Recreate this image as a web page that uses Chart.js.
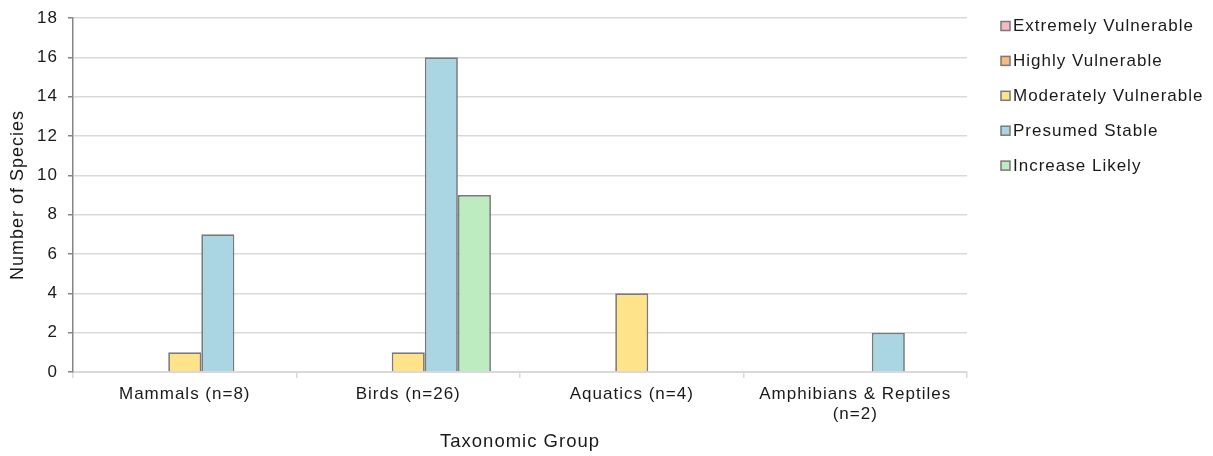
<!DOCTYPE html>
<html>
<head>
<meta charset="utf-8">
<script src="https://cdn.jsdelivr.net/npm/chart.js@4/dist/chart.umd.min.js"></script>
<style>
  html, body { margin: 0; padding: 0; background: #fff; }
  #wrap { width: 1213px; height: 456px; position: relative; }
</style>
</head>
<body>
<div id="wrap"><canvas id="c" width="1213" height="456"></canvas></div>
<script>
// Taxonomic groups along the x axis (multi-line labels are arrays)
const categories = [
  'Mammals (n=8)',
  'Birds (n=26)',
  'Aquatics (n=4)',
  ['Amphibians & Reptiles', '(n=2)']
];

// Vulnerability classes (one series each)
const seriesNames = [
  'Extremely Vulnerable',
  'Highly Vulnerable',
  'Moderately Vulnerable',
  'Presumed Stable',
  'Increase Likely'
];

// Number of species per class, in category order
const extremelyVulnerable  = [0, 0, 0, 0];
const highlyVulnerable     = [0, 0, 0, 0];
const moderatelyVulnerable = [1, 1, 4, 0];
const presumedStable       = [7, 16, 0, 2];
const increaseLikely       = [0, 9, 0, 0];

const yTicks = [0, 2, 4, 6, 8, 10, 12, 14, 16, 18];

const fills = ['#f8b9c3', '#f9b97f', '#ffe38b', '#aad6e3', '#bdecc0'];
const edge = '#7a7a7a';
const textColor = '#1a1a1a';
const font = 'Arial, "Liberation Sans", sans-serif';

const seriesValues = [extremelyVulnerable, highlyVulnerable, moderatelyVulnerable, presumedStable, increaseLikely];

// Slightly open letter spacing for all canvas text
const spacing = {
  id: 'spacing',
  beforeUpdate(chart) { chart.ctx.letterSpacing = '1px'; },
  beforeDraw(chart) { chart.ctx.letterSpacing = '1px'; }
};

// Legend stacked on the right, drawn from the datasets
const sideLegend = {
  id: 'sideLegend',
  afterDraw(chart) {
    const ctx = chart.ctx;
    ctx.save();
    ctx.letterSpacing = '1px';
    ctx.font = '17px ' + font;
    ctx.textBaseline = 'middle';
    ctx.textAlign = 'left';
    chart.data.datasets.forEach((ds, i) => {
      const y = 26.5 + i * 34.9;
      ctx.fillStyle = ds.backgroundColor;
      ctx.fillRect(1001, y - 5, 9, 9);
      ctx.strokeStyle = edge;
      ctx.lineWidth = 1.5;
      ctx.strokeRect(1001, y - 5, 9, 9);
      ctx.fillStyle = textColor;
      ctx.fillText(ds.label, 1013, y);
    });
    ctx.restore();
  }
};

new Chart(document.getElementById('c'), {
  type: 'bar',
  data: {
    labels: categories,
    datasets: seriesNames.map((name, i) => ({
      label: name,
      data: seriesValues[i],
      backgroundColor: fills[i],
      borderColor: edge,
      borderWidth: 1.75,
      borderSkipped: 'bottom',
      categoryPercentage: 0.74,
      barPercentage: 1.0
    }))
  },
  options: {
    responsive: false,
    animation: false,
    devicePixelRatio: 1,
    layout: { padding: { top: 18, right: 246, left: 0, bottom: 0 } },
    plugins: {
      legend: { display: false },
      tooltip: { enabled: false }
    },
    scales: {
      x: {
        offset: true,
        grid: {
          display: true,
          drawOnChartArea: false,
          drawTicks: true,
          tickLength: 6,
          offset: true,
          color: '#d9d9d9',
          lineWidth: 1.5
        },
        border: { display: true, color: '#d9d9d9', width: 2 },
        ticks: {
          color: textColor,
          font: { family: font, size: 17, lineHeight: 1.18 },
          padding: 6,
          maxRotation: 0,
          autoSkip: false
        },
        title: {
          display: true,
          text: 'Taxonomic Group',
          color: textColor,
          font: { family: font, size: 18.5 },
          padding: { top: 0, bottom: 3 }
        },
        afterFit(scale) { scale.height = 456 - 372; }
      },
      y: {
        min: 0,
        max: 18,
        afterBuildTicks(scale) { scale.ticks = yTicks.map(v => ({ value: v })); },
        grid: {
          color: '#d9d9d9',
          lineWidth: 1.5,
          drawTicks: true,
          tickLength: 5,
          tickColor: '#868686'
        },
        border: { display: true, color: '#868686', width: 1.5 },
        ticks: {
          color: textColor,
          font: { family: font, size: 17, lineHeight: 0.9 },
          padding: 10
        },
        title: {
          display: true,
          text: 'Number of Species',
          color: textColor,
          font: { family: font, size: 18 },
          padding: { top: 7, bottom: 0 }
        },
        afterFit(scale) { scale.width = 73; }
      }
    }
  },
  plugins: [spacing, sideLegend]
});
</script>
</body>
</html>
